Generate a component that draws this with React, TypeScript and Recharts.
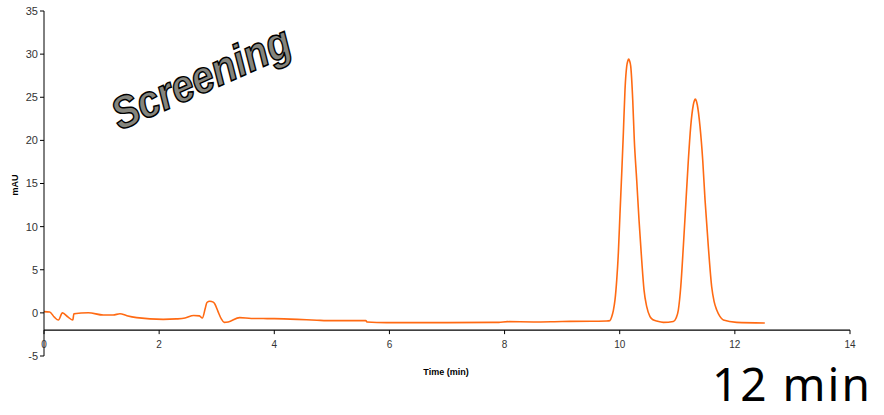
import React from 'react';
import { ComposedChart, Line, XAxis, YAxis, ReferenceLine } from 'recharts';

// retention time (min) and detector signal (mAU)
const time = [
  0, 0.1, 0.18, 0.25, 0.32, 0.42, 0.5, 0.52, 0.77, 1.03, 1.2, 1.32, 1.44, 1.61, 2.07, 2.3,
  2.45, 2.6, 2.7, 2.75, 2.8, 2.83, 2.88, 2.94, 2.97, 3.02, 3.08, 3.13, 3.2, 3.4, 3.6, 4.0,
  4.4, 4.74, 5.0, 5.59, 5.61, 5.95, 7.0, 7.9, 8.05, 8.5, 9.0, 9.5, 9.77, 9.83, 9.861, 9.89, 9.918,
  9.948, 9.976, 10.005, 10.035, 10.063, 10.092, 10.122, 10.14, 10.156, 10.172, 10.191, 10.226, 10.253,
  10.295, 10.335, 10.382, 10.422, 10.469, 10.526, 10.58, 10.643, 10.757, 10.931, 10.98, 11.018, 11.06,
  11.105, 11.152, 11.192, 11.233, 11.278, 11.296, 11.313, 11.33, 11.348, 11.395, 11.442, 11.482, 11.539,
  11.598, 11.64, 11.685, 11.74, 11.8, 12.03, 12.52,
];
const mAU = [
  0.15, 0.1, -0.5, -0.83, 0, -0.5, -0.83, -0.1, 0.02, -0.25, -0.25, -0.1, -0.33, -0.55, -0.75, -0.7,
  -0.6, -0.3, -0.35, -0.6, 0.5, 1.2, 1.35, 1.25, 1.0, 0.2, -0.7, -1.1, -1.05, -0.55, -0.65, -0.67,
  -0.75, -0.85, -0.9, -0.9, -1.05, -1.13, -1.13, -1.1, -1.02, -1.05, -1.0, -0.97, -0.94, -0.9, -0.44, 0.3, 1.5,
  3.8, 6.9, 11.55, 16.2, 20.8, 25.9, 28.6, 29.2, 29.42, 29.2, 28.6, 24.7, 20.1,
  15.4, 10.8, 6.1, 2.66, 0.72, -0.44, -0.8, -0.94, -1.1, -1.0, -0.6, 0.33, 3.0,
  7.7, 13.1, 17.7, 21.6, 24.1, 24.6, 24.78, 24.6, 24.1, 21.6, 17.7, 13.1, 7.7,
  3.0, 1.3, 0.33, -0.4, -0.83, -1.1, -1.17,
];
const xTicks = [0, 2, 4, 6, 8, 10, 12, 14];
const yTicks = [-5, 0, 5, 10, 15, 20, 25, 30, 35];

const data = time.map((t, i) => ({ t, v: mAU[i] }));

const TOP = 11;
const BOTTOM = 356;
const Y_MIN = -5;
const Y_MAX = 35;
const CROSS = -2; // x axis crosses here
const AXIS_Y = TOP + ((Y_MAX - CROSS) / (Y_MAX - Y_MIN)) * (BOTTOM - TOP);

const XTick = (props: any) => {
  const { x, payload } = props;
  return (
    <g>
      <line x1={x} x2={x} y1={AXIS_Y} y2={AXIS_Y + 4} stroke="#000" />
      <text x={x} y={AXIS_Y + 18} textAnchor="middle" fontSize={10} fill="#333">
        {payload.value}
      </text>
    </g>
  );
};

export default function App() {
  return (
    <div
      style={{
        position: 'absolute',
        left: 0,
        top: 0,
        width: 884,
        height: 415,
        background: '#fff',
        fontFamily: '"Liberation Sans", Arial, sans-serif',
      }}
    >
      <ComposedChart
        width={884}
        height={415}
        data={data}
        margin={{ top: TOP, right: 34, bottom: 29, left: 0 }}
      >
        <XAxis
          dataKey="t"
          type="number"
          domain={[0, 14]}
          ticks={xTicks}
          axisLine={false}
          tickLine={false}
          height={30}
          tick={(p: any) => <XTick {...p} />}
        />
        <YAxis
          type="number"
          domain={[Y_MIN, Y_MAX]}
          ticks={yTicks}
          width={44}
          axisLine={{ stroke: '#000' }}
          tickLine={{ stroke: '#000' }}
          tickSize={4}
          tick={{ fontSize: 11, fill: '#333' }}
        />
        <ReferenceLine y={CROSS} stroke="#000" strokeWidth={1.3} />
        <Line
          dataKey="v"
          type="monotone"
          stroke="#ff6a13"
          strokeWidth={1.6}
          dot={false}
          isAnimationActive={false}
        />
      </ComposedChart>

      <div
        style={{
          position: 'absolute',
          left: 15,
          top: 185,
          transform: 'translate(-50%, -50%) rotate(-90deg)',
          fontSize: 9,
          fontWeight: 'bold',
          color: '#000',
        }}
      >
        mAU
      </div>
      <div
        style={{
          position: 'absolute',
          left: 446,
          top: 372,
          transform: 'translate(-50%, -50%)',
          fontSize: 9,
          fontWeight: 'bold',
          color: '#000',
          whiteSpace: 'nowrap',
        }}
      >
        Time (min)
      </div>
      <div
        style={{
          position: 'absolute',
          left: 201,
          top: 78,
          transform: 'translate(-50%, -50%) rotate(-24deg) scaleX(0.88)',
          fontSize: 45,
          fontWeight: 900,
          fontStyle: 'italic',
          color: '#85857d',
          WebkitTextStroke: '1.5px #000',
          whiteSpace: 'nowrap',
        }}
      >
        Screening
      </div>
      <div
        style={{
          position: 'absolute',
          left: 712,
          top: 360,
          fontSize: 46,
          lineHeight: '46px',
          letterSpacing: 2,
          fontFamily: '"Noto Sans", sans-serif',
          color: '#000',
          whiteSpace: 'nowrap',
        }}
      >
        12 min
      </div>
    </div>
  );
}
